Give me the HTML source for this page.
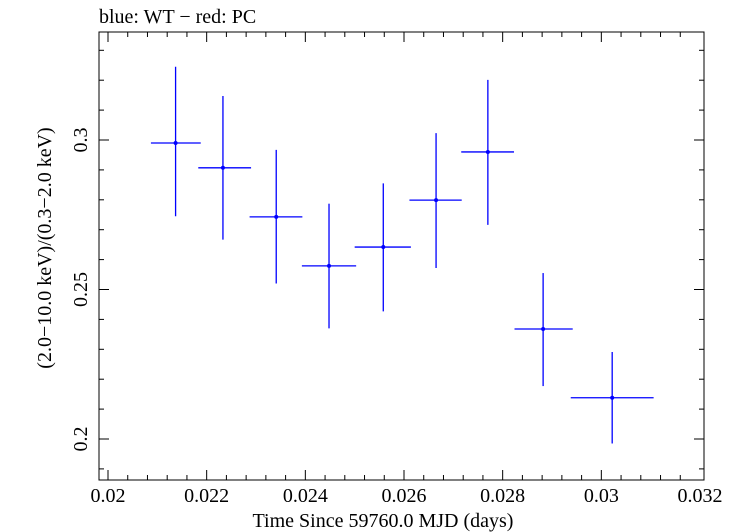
<!DOCTYPE html>
<html><head><meta charset="utf-8"><style>
body{margin:0;background:#fff}
svg{display:block;font-family:"Liberation Serif",serif}
</style></head><body>
<svg id="c" width="739" height="532" xmlns="http://www.w3.org/2000/svg">
<text x="99" y="23" font-size="20">blue: WT − red: PC</text>
<rect x="99" y="32" width="605" height="448" fill="none" stroke="#000" stroke-width="1"/>
<g id="axes"></g>
<g id="marks"></g>
<text x="383" y="527" font-size="20" text-anchor="middle">Time Since 59760.0 MJD (days)</text>
<text transform="translate(51,248) rotate(-90)" font-size="20" text-anchor="middle">(2.0−10.0 keV)/(0.3−2.0 keV)</text>
</svg>
<script>
const xVals=[0.02137,0.02233,0.02341,0.02448,0.02558,0.02665,0.0277,0.02882,0.03022];
const xLo=[0.02087,0.02183,0.02287,0.02393,0.02500,0.02611,0.02716,0.02824,0.02938];
const xHi=[0.02188,0.02290,0.02394,0.02503,0.02614,0.02717,0.02823,0.02942,0.03106];
const yVals=[0.299,0.2907,0.2743,0.2579,0.2642,0.2799,0.296,0.2368,0.2138];
const yLo=[0.2745,0.2667,0.252,0.237,0.2427,0.2572,0.2716,0.2177,0.1985];
const yHi=[0.3245,0.3147,0.2967,0.2787,0.2855,0.3023,0.3201,0.2555,0.2291];
const xTicks=[0.02,0.022,0.024,0.026,0.028,0.03,0.032];
const xTickLabels=["0.02","0.022","0.024","0.026","0.028","0.03","0.032"];
const yTicks=[0.2,0.25,0.3];
const yTickLabels=["0.2","0.25","0.3"];
const L=99,R=704,T=32,B=480;
const X=v=>108+(v-0.02)/0.012*592;
const Y=v=>140+(0.3-v)/0.05*149.5;
const NS="http://www.w3.org/2000/svg";
function mk(tag,attrs,parent){const e=document.createElementNS(NS,tag);for(const k in attrs)e.setAttribute(k,attrs[k]);parent.appendChild(e);return e;}
const ax=document.getElementById('axes'),mg=document.getElementById('marks');
for(let i=0;i<=30;i++){const v=0.0196+i*0.0004;const px=X(v);if(px<L||px>R)continue;
 const major=xTicks.some(t=>Math.abs(t-v)<1e-9);const len=major?10:5;
 let t1=mk('line',{x1:px,x2:px,y1:B,y2:B-len,stroke:'#000'},ax);
 let t2=mk('line',{x1:px,x2:px,y1:T,y2:T+len,stroke:'#000'},ax);}
xTicks.forEach((v,i)=>{const t=mk('text',{x:X(v),y:502,'font-size':20,'text-anchor':'middle'},ax);t.textContent=xTickLabels[i];
 });
for(let i=0;i<=20;i++){const v=0.18+i*0.01;const py=Y(v);if(py<T||py>B)continue;
 const major=yTicks.some(t=>Math.abs(t-v)<1e-9);const len=major?10:5;
 let t1=mk('line',{x1:L,x2:L+len,y1:py,y2:py,stroke:'#000'},ax);
 let t2=mk('line',{x1:R,x2:R-len,y1:py,y2:py,stroke:'#000'},ax);}
yTicks.forEach((v,i)=>{const t=mk('text',{transform:`translate(87,${Y(v)}) rotate(-90)`,'font-size':20,'text-anchor':'middle'},ax);t.textContent=yTickLabels[i];
 });
xVals.forEach((v,i)=>{
 const h=mk('line',{x1:X(xLo[i]),x2:X(xHi[i]),y1:Y(yVals[i]),y2:Y(yVals[i]),stroke:'#0000ff','stroke-width':1.3},mg);
 
 const vl=mk('line',{x1:X(v),x2:X(v),y1:Y(yLo[i]),y2:Y(yHi[i]),stroke:'#0000ff','stroke-width':1.3},mg);
 
 const c=mk('circle',{cx:X(v),cy:Y(yVals[i]),r:2,fill:'#0000ff'},mg);
 
});
</script>
</body></html>
